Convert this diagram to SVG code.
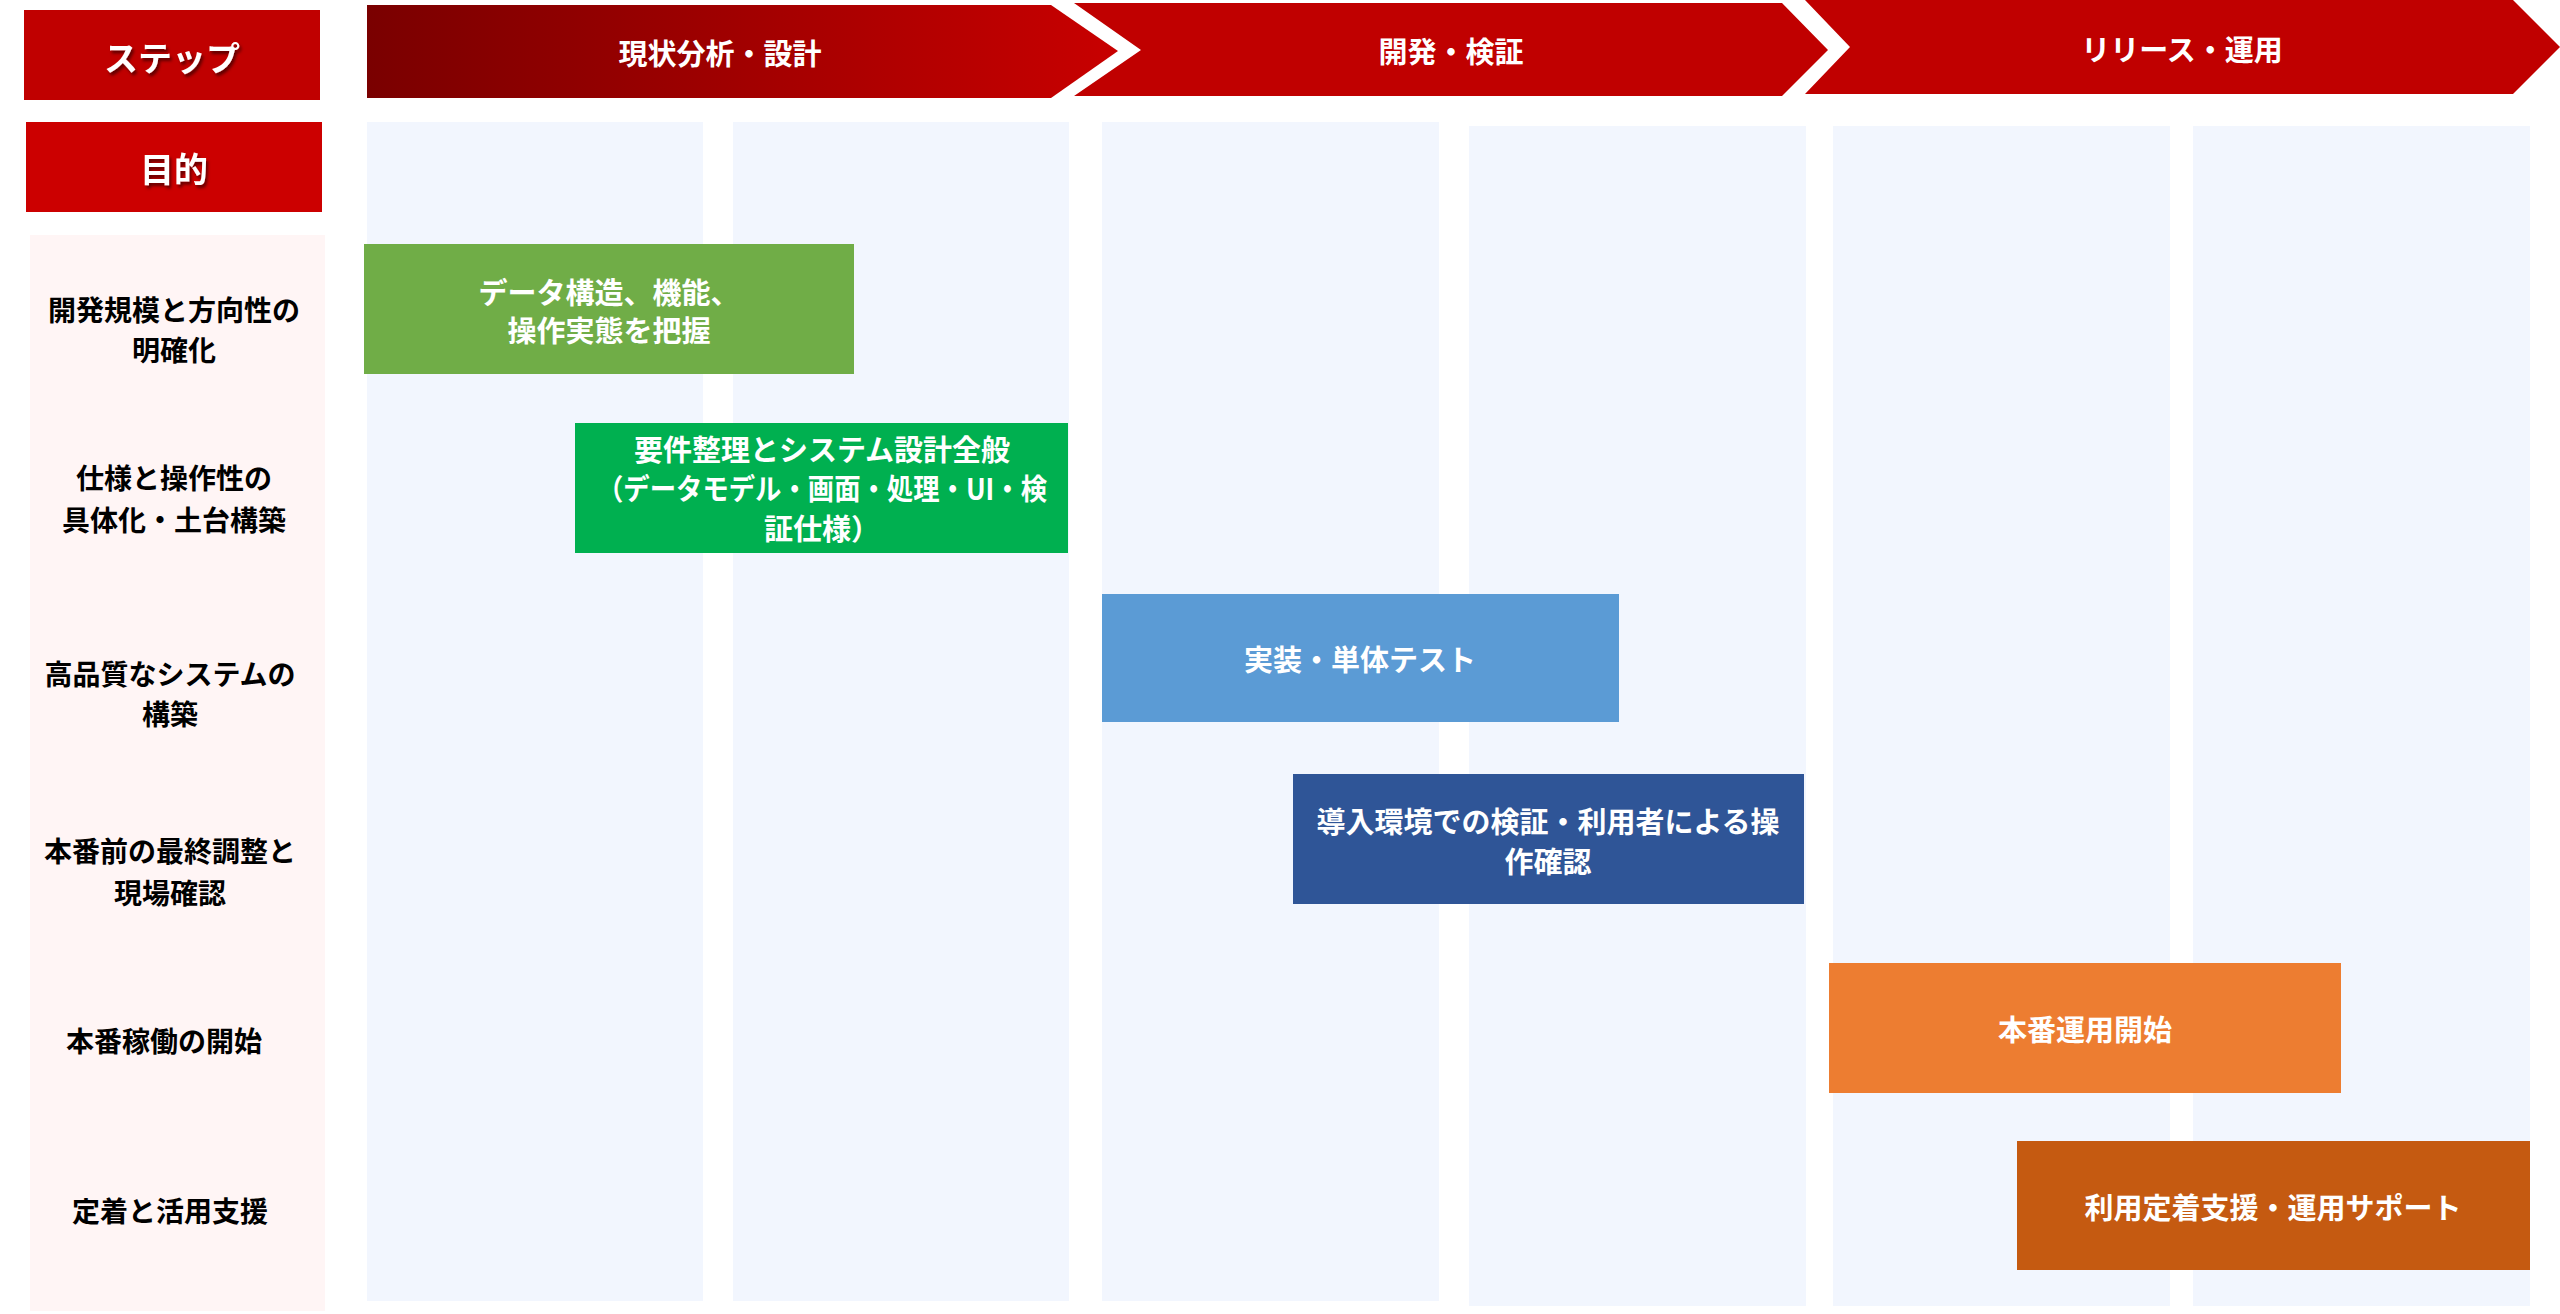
<svg xmlns="http://www.w3.org/2000/svg" width="2560" height="1314" viewBox="0 0 2560 1314">
<defs>
<linearGradient id="g1" x1="0" y1="0" x2="1" y2="0"><stop offset="0" stop-color="#7a0000"/><stop offset="1" stop-color="#c80000"/></linearGradient>
<filter id="sh" x="-10%" y="-10%" width="130%" height="140%"><feDropShadow dx="2" dy="3" stdDeviation="1.5" flood-color="#000" flood-opacity="0.5"/></filter>
</defs>
<style>
text{font-family:"Noto Sans CJK JP","Noto Sans",sans-serif;font-weight:bold;text-anchor:middle;dominant-baseline:central}
.w{fill:#fff;font-size:29px}
.k{fill:#000;font-size:28px}
.col{fill:#f2f6fe}
</style>
<rect width="2560" height="1314" fill="#fff"/>
<g id="header">
<g id="step"><rect x="24" y="10" width="296" height="90" fill="#c00000"/><text class="w" x="172" y="56" style="font-size:34px" filter="url(#sh)">ステップ</text></g>
<g id="purpose"><rect x="26" y="122" width="296" height="90" fill="#cc0000"/><text class="w" x="174" y="167" style="font-size:34px" filter="url(#sh)">目的</text></g>
<g id="phase1"><polygon points="367,5 1051,5 1118,51 1051,98 367,98" fill="url(#g1)"/><text class="w" x="720" y="52">現状分析・設計</text></g>
<g id="phase2"><polygon points="1074,3 1782,3 1828,50 1782,96 1074,96 1141,50" fill="#c00000"/><text class="w" x="1451" y="50">開発・検証</text></g>
<g id="phase3"><polygon points="1805,0 2513,0 2560,47 2513,94 1805,94 1850,47" fill="#c00000"/><text class="w" x="2182" y="48">リリース・運用</text></g>
</g>
<g id="columns">
<rect x="30" y="235" width="295" height="1076" fill="#fff5f5"/>
<rect class="col" x="367" y="122" width="336" height="1179"/>
<rect class="col" x="733" y="122" width="336" height="1179"/>
<rect class="col" x="1102" y="122" width="337" height="1179"/>
<rect class="col" x="1469" y="126" width="337" height="1180"/>
<rect class="col" x="1833" y="126" width="337" height="1180"/>
<rect class="col" x="2193" y="126" width="337" height="1180"/>
</g>
<g id="labels">
<text class="k" x="174" y="309">開発規模と方向性の</text><text class="k" x="174" y="349">明確化</text>
<text class="k" x="174" y="477">仕様と操作性の</text><text class="k" x="174" y="519">具体化・土台構築</text>
<text class="k" x="170" y="673">高品質なシステムの</text><text class="k" x="170" y="713">構築</text>
<text class="k" x="170" y="850">本番前の最終調整と</text><text class="k" x="170" y="892">現場確認</text>
<text class="k" x="164" y="1040">本番稼働の開始</text>
<text class="k" x="170" y="1210">定着と活用支援</text>
</g>
<g id="bar1"><rect x="364" y="244" width="490" height="130" fill="#70ad47"/><text class="w" x="609" y="291">データ構造、機能、</text><text class="w" x="609" y="329">操作実態を把握</text></g>
<g id="bar2"><rect x="575" y="423" width="493" height="130" fill="#00b050"/><text class="w" x="822" y="448">要件整理とシステム設計全般</text><text class="w" x="822" y="487" textLength="450" lengthAdjust="spacingAndGlyphs">（データモデル・画面・処理・UI・検</text><text class="w" x="822" y="527">証仕様）</text></g>
<g id="bar3"><rect x="1102" y="594" width="517" height="128" fill="#5b9bd5"/><text class="w" x="1360" y="658">実装・単体テスト</text></g>
<g id="bar4"><rect x="1293" y="774" width="511" height="130" fill="#2f5597"/><text class="w" x="1548" y="820">導入環境での検証・利用者による操</text><text class="w" x="1548" y="860">作確認</text></g>
<g id="bar5"><rect x="1829" y="963" width="512" height="130" fill="#ed7d31"/><text class="w" x="2085" y="1028">本番運用開始</text></g>
<g id="bar6"><rect x="2017" y="1141" width="513" height="129" fill="#c55a11"/><text class="w" x="2273" y="1206">利用定着支援・運用サポート</text></g>
<g id="connectors"/>
</svg>
